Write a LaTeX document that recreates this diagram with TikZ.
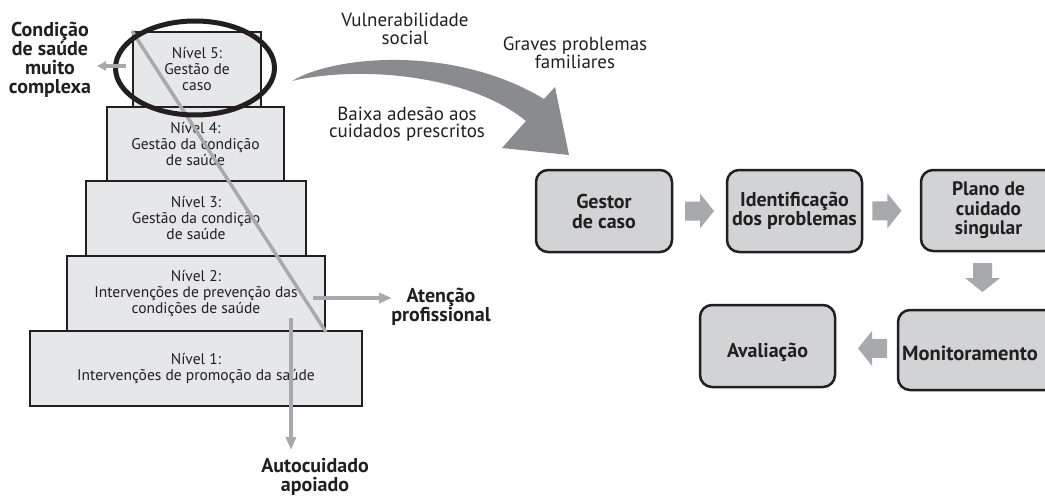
\documentclass[tikz,border=0pt]{standalone}
\usepackage{fontspec}
\setmainfont{PT Sans}
\usetikzlibrary{shapes.geometric,arrows.meta,calc}
\definecolor{ink}{HTML}{231F20}
\definecolor{pyrfill}{HTML}{E6E7E8}
\definecolor{flowfill}{HTML}{D1D3D4}
\definecolor{lightarrow}{HTML}{A7A9AC}
\definecolor{bigarrow}{HTML}{8A8B8E}
\tikzset{
  lvl/.style={draw=ink, line width=2pt, fill=pyrfill, minimum width=#1, minimum height=75pt,
    inner sep=0pt, align=center, text=ink, font=\fontsize{15.5}{16}\selectfont},
  flowbox/.style={draw=ink, line width=2.5pt, fill=flowfill, rounded corners=12pt,
    minimum width=135pt, minimum height=82pt, inner sep=0pt, align=center, text=ink,
    font=\bfseries\fontsize{20}{20}\selectfont},
  boldlbl/.style={align=center, text=ink, inner sep=0pt, font=\bfseries\fontsize{20}{19}\selectfont},
  plainlbl/.style={align=center, text=ink, inner sep=0pt, font=\fontsize{19}{17.5}\selectfont},
  diagline/.style={draw=lightarrow, line width=3.5pt},
  grayarrow/.style={draw=lightarrow, line width=4.5pt, -{Triangle[length=13pt,width=10pt]}},
  blockarrow/.pic={\fill[lightarrow] (-14.5,-9.5) -- (0.5,-9.5) -- (0.5,-17.5) -- (14.5,0)
      -- (0.5,17.5) -- (0.5,9.5) -- (-14.5,9.5) -- cycle;}
}
\begin{document}
\begin{tikzpicture}[x=1pt,y=-1pt]
\useasboundingbox (0,0) rectangle (1045,498);
\clip (0,0) rectangle (1045,498);

% pyramid
\node[lvl=128pt] (L5) at (197,69.5) {Nível 5:\\Gestão de\\caso};
\node[lvl=177pt] (L4) at (195.5,144) {Nível 4:\\Gestão da condição\\de saúde};
\node[lvl=220pt] (L3) at (196,218.5) {Nível 3:\\Gestão da condição\\de saúde};
\node[lvl=258pt] (L2) at (196,293.5) {Nível 2:\\Intervenções de prevenção das\\condições de saúde};
\node[lvl=332pt] (L1) at (196,368.5) {Nível 1:\\Intervenções de promoção da saúde};

\draw[diagline] (L5.north west) -- (L2.south east);

\node[ellipse, draw=ink, line width=5pt, minimum width=159pt, minimum height=94pt, inner sep=0pt] (focus) at (195,68) {};

% side labels and arrows
\node[boldlbl] (cond) at (50,60) {Condição\\de saúde\\muito\\complexa};
\coordinate (la) at (126,66);
\coordinate (lb) at (97,66);
\draw[grayarrow, -{Triangle[length=9pt,width=9pt]}, line width=4pt] (la) -- (lb);

\node[boldlbl] (aten) at (441,307) {Atenção\\profissional};
\coordinate (aa) at (313,298);
\coordinate (ab) at (392,298);
\draw[grayarrow] (aa) -- (ab);

\node[boldlbl] (auto) at (315,477) {Autocuidado\\apoiado};
\coordinate (ua) at (291,318);
\coordinate (ub) at (291,450);
\draw[grayarrow] (ua) -- (ub);

% upper labels
\node[plainlbl] (vuln) at (405,29) {Vulnerabilidade\\social};
\node[plainlbl] (grav) at (575,53) {Graves problemas\\familiares};
\node[plainlbl] (baix) at (407,124) {Baixa adesão aos\\cuidados prescritos};

% big curved arrow
\fill[bigarrow] (292,81) .. controls (335,55) and (455,45) .. (544,99)
  -- (555,87) -- (569,155) -- (502,148) -- (526,121)
  .. controls (470,75) and (360,65) .. (292,81) -- cycle;

% flow
\node[flowbox, minimum width=136pt] (B1) at (604,211) {Gestor\\de caso};
\node[flowbox, font=\bfseries\fontsize{20}{18}\selectfont] (B2) at (794.5,211) {Identificação\\dos problemas};
\node[flowbox, minimum height=81pt, font=\bfseries\fontsize{19.5}{19.5}\selectfont] (B3) at (988.5,210.5) {Plano de\\cuidado\\singular};
\node[flowbox, minimum width=162pt, minimum height=80pt] (B4) at (979,350) {};
\node[text=ink, inner sep=0pt, font=\bfseries\fontsize{20.5}{20}\selectfont] (montext) at (970,353) {Monitoramento};
\node[flowbox] (B5) at (767.5,346) {};
\node[text=ink, inner sep=0pt, font=\bfseries\fontsize{20}{20}\selectfont] (avtext) at (767.5,352) {Avaliação};

\pic at ($(B1.east)!0.5!(B2.west)$) {blockarrow};
\pic at ($(B2.east)!0.42!(B3.west)$) {blockarrow};
\pic[rotate=-90] at (982.5,277.5) {blockarrow};
\pic[rotate=180] at ($(B4.west)!0.4!(B5.east)$) {blockarrow};
\end{tikzpicture}
\end{document}
